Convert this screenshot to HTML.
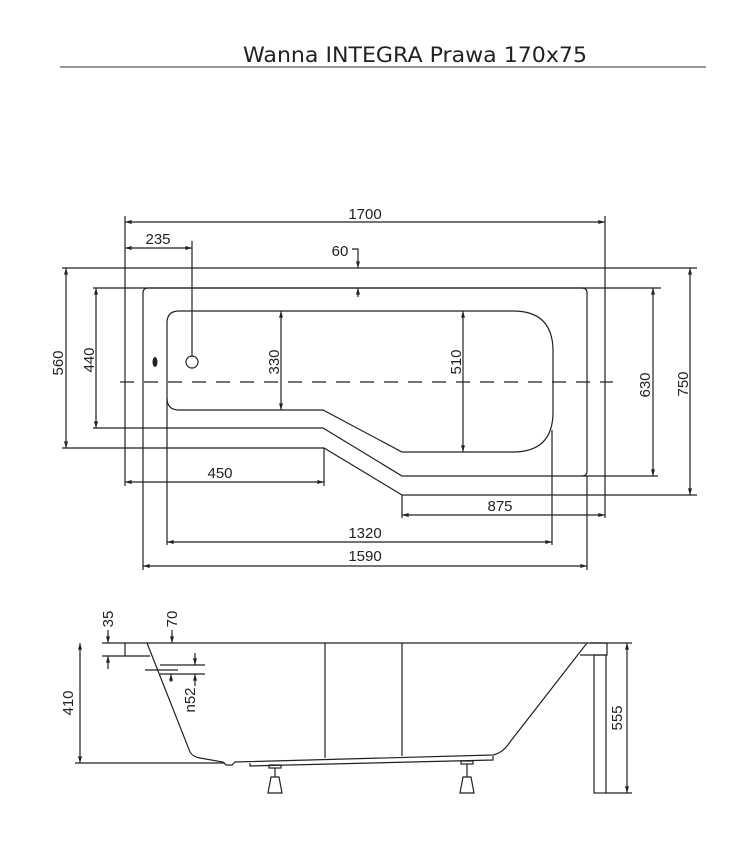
<!DOCTYPE html>
<html><head><meta charset="utf-8"><style>
html,body{margin:0;padding:0;background:#fff;}
svg{display:block;}
text{font-family:"Liberation Sans",Arial,sans-serif;font-size:15px;fill:#222;}
</style></head><body>
<svg width="751" height="855" viewBox="0 0 751 855" xmlns="http://www.w3.org/2000/svg">
<defs>
<marker id="a" viewBox="0 0 10 6" refX="10" refY="3" markerWidth="7" markerHeight="4" markerUnits="userSpaceOnUse" orient="auto-start-reverse">
<path d="M0,0 L10,3 L0,6 Z" fill="#222"/></marker>
</defs>
<text x="243" y="62" textLength="344" lengthAdjust="spacingAndGlyphs" style="font-family:'DejaVu Sans',Verdana,sans-serif;font-size:21px;fill:#222">Wanna INTEGRA Prawa 170x75</text>
<line x1="60" y1="67" x2="706" y2="67" stroke="#777" stroke-width="1.5"/>

<g stroke="#222" stroke-width="1.2" fill="none">
<line x1="62" y1="268" x2="697" y2="268"/>
<polyline points="62,448 324,448 402,495 697,495"/>
<line x1="93" y1="288" x2="661" y2="288"/>
<polyline points="93,428 323,428 402,476 658,476"/>
<path d="M143,428 L143,293 Q143,288 148,288 L582,288 Q587,288 587,293 L587,471 Q587,476 582,476"/>
<path d="M179,311 L513,311 Q553,311 553,351 L553,412 Q553,452 513,452 L402,452 L323,410 L179,410 Q167,410 167,398 L167,323 Q167,311 179,311 Z"/>
<line x1="125" y1="216" x2="125" y2="486"/>
<line x1="605" y1="216" x2="605" y2="518"/>
<line x1="324" y1="448" x2="324" y2="486"/>
<line x1="402" y1="495" x2="402" y2="518"/>
<line x1="167" y1="398" x2="167" y2="545"/>
<line x1="552" y1="430" x2="552" y2="545"/>
<line x1="143" y1="428" x2="143" y2="570"/>
<line x1="587" y1="476" x2="587" y2="570"/>
<line x1="192" y1="241" x2="192" y2="356"/>
<line x1="125" y1="222" x2="605" y2="222" marker-start="url(#a)" marker-end="url(#a)"/>
<line x1="125" y1="248" x2="192" y2="248" marker-start="url(#a)" marker-end="url(#a)"/>
<polyline points="352,249 358,249 358,268" marker-end="url(#a)"/>
<line x1="358" y1="297" x2="358" y2="288" marker-end="url(#a)"/>
<line x1="66" y1="268" x2="66" y2="448" marker-start="url(#a)" marker-end="url(#a)"/>
<line x1="96" y1="288" x2="96" y2="428" marker-start="url(#a)" marker-end="url(#a)"/>
<line x1="281" y1="311" x2="281" y2="410" marker-start="url(#a)" marker-end="url(#a)"/>
<line x1="463" y1="311" x2="463" y2="452" marker-start="url(#a)" marker-end="url(#a)"/>
<line x1="653" y1="288" x2="653" y2="476" marker-start="url(#a)" marker-end="url(#a)"/>
<line x1="690" y1="268" x2="690" y2="495" marker-start="url(#a)" marker-end="url(#a)"/>
<line x1="125" y1="482" x2="324" y2="482" marker-start="url(#a)" marker-end="url(#a)"/>
<line x1="402" y1="515" x2="605" y2="515" marker-start="url(#a)" marker-end="url(#a)"/>
<line x1="167" y1="542" x2="552" y2="542" marker-start="url(#a)" marker-end="url(#a)"/>
<line x1="143" y1="566" x2="587" y2="566" marker-start="url(#a)" marker-end="url(#a)"/>
<line x1="120" y1="382" x2="613" y2="382" stroke-dasharray="14,10"/>
<circle cx="192" cy="362" r="6"/>
</g>
<ellipse cx="155" cy="362" rx="2.5" ry="5" fill="#222"/>

<text x="365" y="219" text-anchor="middle">1700</text>
<text x="158" y="244" text-anchor="middle">235</text>
<text x="340" y="256" text-anchor="middle">60</text>
<text transform="translate(63,363) rotate(-90)" text-anchor="middle">560</text>
<text transform="translate(94,360) rotate(-90)" text-anchor="middle">440</text>
<text transform="translate(279,362) rotate(-90)" text-anchor="middle">330</text>
<text transform="translate(461,362) rotate(-90)" text-anchor="middle">510</text>
<text transform="translate(650,385) rotate(-90)" text-anchor="middle">630</text>
<text transform="translate(688,384) rotate(-90)" text-anchor="middle">750</text>
<text x="220" y="478" text-anchor="middle">450</text>
<text x="500" y="511" text-anchor="middle">875</text>
<text x="365" y="538" text-anchor="middle">1320</text>
<text x="365" y="561" text-anchor="middle">1590</text>

<g stroke="#222" stroke-width="1.2" fill="none">
<line x1="102" y1="643" x2="632" y2="643"/>
<line x1="75" y1="763" x2="225" y2="763"/>
<line x1="102" y1="656" x2="125" y2="656"/>
<polyline points="125,643 125,656 150,656"/>
<path d="M147,643 L190,752 Q193,757 200,758 L223,762 L226,765 L232,765 L235,762 L493,755 Q503,753 510,742 L587,643"/>
<polyline points="590,643 607,643 607,655 580,655"/>
<rect x="594" y="655" width="12" height="138"/>
<line x1="606" y1="793" x2="632" y2="793"/>
<line x1="325" y1="643" x2="325" y2="758"/>
<line x1="402" y1="643" x2="402" y2="756"/>
<polyline points="250,763 250,766 493,760 493,756"/>
<line x1="80" y1="643" x2="80" y2="763" marker-start="url(#a)" marker-end="url(#a)"/>
<line x1="627" y1="643" x2="627" y2="793" marker-start="url(#a)" marker-end="url(#a)"/>
<line x1="108" y1="630" x2="108" y2="643" marker-end="url(#a)"/>
<line x1="108" y1="669" x2="108" y2="656" marker-end="url(#a)"/>
<line x1="172" y1="630" x2="172" y2="643" marker-end="url(#a)"/>
<line x1="160" y1="665" x2="205" y2="665"/>
<line x1="145" y1="670" x2="178" y2="670"/>
<line x1="160" y1="674" x2="205" y2="674"/>
<line x1="195" y1="653" x2="195" y2="665" marker-end="url(#a)"/>
<line x1="195" y1="686" x2="195" y2="674" marker-end="url(#a)"/>
<line x1="171" y1="682" x2="171" y2="674" marker-end="url(#a)"/>
<rect x="269" y="765" width="12" height="3"/>
<line x1="275" y1="768" x2="275" y2="777"/>
<path d="M271,777 L279,777 L282,793 L268,793 Z"/>
<rect x="461" y="761" width="12" height="3"/>
<line x1="467" y1="764" x2="467" y2="777"/>
<path d="M463,777 L471,777 L474,793 L460,793 Z"/>
</g>
<text transform="translate(113,619) rotate(-90)" text-anchor="middle">35</text>
<text transform="translate(177,619) rotate(-90)" text-anchor="middle">70</text>
<text transform="translate(195,700) rotate(-90)" text-anchor="middle">n52</text>
<text transform="translate(73,703) rotate(-90)" text-anchor="middle">410</text>
<text transform="translate(622,718) rotate(-90)" text-anchor="middle">555</text>
</svg>
</body></html>
